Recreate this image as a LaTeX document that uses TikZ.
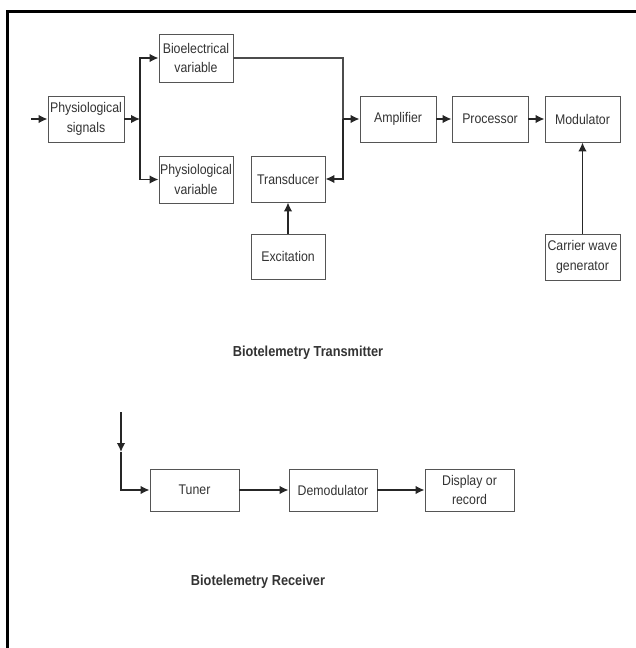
\documentclass[tikz,border=0pt]{standalone}
\usepackage{fontspec}
\setmainfont[FakeStretch=0.88]{Liberation Sans}
\usetikzlibrary{arrows.meta}
\definecolor{txt}{HTML}{333333}
\definecolor{bord}{HTML}{555555}
\tikzset{
  blk/.style={draw=bord, line width=0.9pt, fill=white, text=txt, align=center,
    inner sep=0pt, font=\fontsize{14}{19.5}\selectfont},
  arr/.style={draw=black!85, line width=1.5pt, -{Latex[length=9pt,width=8.5pt]}},
  ln/.style={draw=black!70, line width=1.1pt},
  ttl/.style={text=txt, font=\fontsize{14.5}{17}\selectfont\bfseries},
}
\begin{document}
\begin{tikzpicture}[x=1pt,y=-1pt]
\useasboundingbox (0,0) rectangle (636,648);
\fill[white] (0,0) rectangle (636,648);
% frame
\draw[line width=3.5pt, line cap=rect] (636,11.5) -- (7.5,11.5) -- (7.5,650);

% transmitter blocks
\node[blk, minimum width=76pt, minimum height=46pt] (sig) at (86,119) {Physiological\\signals};
\node[blk, minimum width=74pt, minimum height=48pt] (bio) at (196,58) {Bioelectrical\\variable};
\node[blk, minimum width=74pt, minimum height=47pt] (pvar) at (196,179.5) {Physiological\\variable};
\node[blk, minimum width=74pt, minimum height=46pt] (trans) at (288,179) {Transducer};
\node[blk, minimum width=74pt, minimum height=45pt] (exc) at (288,256.5) {Excitation};
\node[blk, minimum width=76pt, minimum height=46pt] (amp) at (398,119) {Amplifier};
\node[blk, minimum width=76pt, minimum height=46pt] (proc) at (490,119) {Processor};
\node[blk, minimum width=75pt, minimum height=46pt] (mod) at (582.5,119) {Modulator};
\node[blk, minimum width=75pt, minimum height=46pt] (car) at (582.5,257) {Carrier wave\\generator};

\node[ttl] (ttx) at (308,353) {Biotelemetry Transmitter};

% transmitter connectors
\coordinate (in1) at (31,119);
\coordinate (j1) at (140,119);
\coordinate (k) at (343,119);
\draw[arr] (in1) -- (sig.west);
\draw[arr] (sig.east) -- (j1);
\draw[arr] (j1) |- (bio.west);
\draw[arr] (j1) |- (pvar.west);
\draw[ln] (bio.east) -| (k);
\draw[arr] (k) -- (amp.west);
\draw[arr] (k) |- (trans.east);
\draw[arr] (exc.north) -- (trans.south);
\draw[arr] (amp.east) -- (proc.west);
\draw[arr] (proc.east) -- (mod.west);
\draw[arr] (car.north) -- (mod.south);

% receiver blocks
\node[blk, minimum width=89pt, minimum height=42pt] (tuner) at (194.5,490) {Tuner};
\node[blk, minimum width=88pt, minimum height=42pt] (demod) at (333,490) {Demodulator};
\node[blk, minimum width=89pt, minimum height=42pt] (disp) at (469.5,490) {Display or\\record};

\node[ttl] (trx) at (258,582) {Biotelemetry Receiver};

% receiver connectors
\coordinate (r0) at (121,412);
\coordinate (rm) at (121,452);
\draw[arr] (r0) -- (rm);
\draw[arr] (rm) |- (tuner.west);
\draw[arr] (tuner.east) -- (demod.west);
\draw[arr] (demod.east) -- (disp.west);
\end{tikzpicture}
\end{document}
